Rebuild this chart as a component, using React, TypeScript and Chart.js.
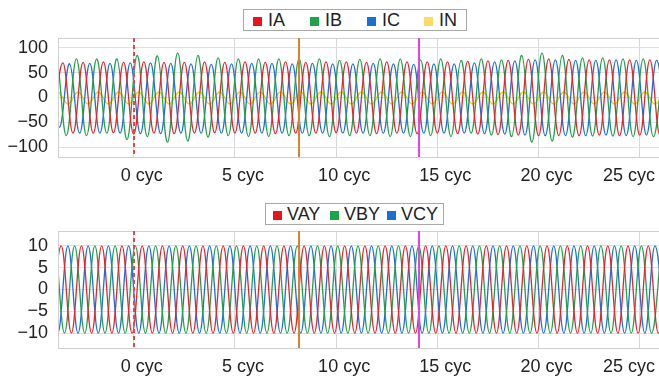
import React, { useEffect, useRef } from 'react';
import { Chart, registerables } from 'chart.js';

Chart.register(...registerables);
Chart.defaults.font.family = '"Liberation Sans", Arial, sans-serif';

// ---------------- data ----------------
const X_MIN = -3.74;
const X_MAX = 25.95;
const X_TICKS = [0, 5, 10, 15, 20, 25];
const CURRENT_Y_TICKS = [-100, -50, 0, 50, 100];
const CURRENT_Y_MIN = -120;
const CURRENT_Y_MAX = 120;
const VOLTAGE_Y_TICKS = [-10, -5, 0, 5, 10];
const VOLTAGE_Y_MIN = -13.4;
const VOLTAGE_Y_MAX = 13.4;

// event markers (cycles)
const MARKER_TIMES = [0, 8.15, 14.1];

// each waveform: time (cyc) of its first extremum, then the extreme value of every half cycle
const HALF_CYCLE = 0.5;

const IA_START = -4;
const IA = [
  -71, 70, -72, 71, -72, 72, -71, 71, -74, 72,
  -72, 71, -73, 71, -72, 72, -71, 71, -72, 72,
  -72, 71, -73, 72, -72, 71, -72, 72, -71, 72,
  -72, 71, -73, 72, -72, 72, -73, 72, -72, 72,
  -73, 73, -74, 74, -75, 75, -76, 77, -77, 78,
  -77, 77, -77, 76, -76, 76, -77, 76, -76, 76,
  -76, 75,
];

const IB_START = -4.33;
const IB = [
  -75, 75, -77, 78, -77, 78, -72, 78, -85, 85,
  -79, 84, -90, 90, -88, 85, -80, 80, -77, 78,
  -79, 78, -79, 78, -77, 78, -77, 78, -79, 75,
  -77, 77, -77, 78, -79, 78, -79, 76, -77, 78,
  -79, 75, -72, 78, -76, 76, -79, 85, -90, 90,
  -88, 85, -80, 80, -78, 80, -78, 78, -79, 78,
  -79, 78,
];

const IC_START = -4.17;
const IC = [
  66, -60, 68, -72, 69, -72, 69, -72, 70, -73,
  70, -73, 69, -72, 68, -72, 67, -72, 68, -72,
  69, -72, 69, -72, 68, -72, 69, -72, 68, -72,
  68, -72, 69, -72, 68, -72, 67, -72, 68, -72,
  68, -72, 70, -73, 72, -74, 74, -76, 76, -77,
  76, -77, 75, -77, 75, -76, 76, -77, 75, -76,
  75, -76,
];

const IN_START = -4.25;
const IN = [
  -13, 11, -13, 11, -13, 11, -13, 11, -13, 11,
  -13, 11, -13, 11, -13, 11, -13, 11, -13, 11,
  -13, 11, -13, 11, -13, 11, -13, 11, -13, 11,
  -13, 11, -13, 11, -13, 11, -13, 11, -13, 11,
  -13, 11, -13, 11, -13, 11, -13, 11, -13, 11,
  -13, 11, -13, 11, -13, 11, -13, 11, -13, 11,
  -13, 11,
];

const VAY_START = -4.08;
const VAY = [
  -10, 10, -10, 10, -10, 10, -10, 10, -10, 10,
  -10, 10, -10, 10, -10, 10, -10, 10, -10, 10,
  -10, 10, -10, 10, -10, 10, -10, 10, -10, 10,
  -10, 10, -10, 10, -10, 10, -10, 10, -10, 10,
  -10, 10, -10, 10, -10, 10, -10, 10, -10, 10,
  -10, 10, -10, 10, -10, 10, -10, 10, -10, 10,
  -10, 10,
];

const VBY_START = -4.42;
const VBY = [
  -10, 10, -10, 10, -10, 10, -10, 10, -10, 10,
  -10, 10, -10, 10, -10, 10, -10, 10, -10, 10,
  -10, 10, -10, 10, -10, 10, -10, 10, -10, 10,
  -10, 10, -10, 10, -10, 10, -10, 10, -10, 10,
  -10, 10, -10, 10, -10, 10, -10, 10, -10, 10,
  -10, 10, -10, 10, -10, 10, -10, 10, -10, 10,
  -10, 10,
];

const VCY_START = -4.25;
const VCY = [
  10, -10, 10, -10, 10, -10, 10, -10, 10, -10,
  10, -10, 10, -10, 10, -10, 10, -10, 10, -10,
  10, -10, 10, -10, 10, -10, 10, -10, 10, -10,
  10, -10, 10, -10, 10, -10, 10, -10, 10, -10,
  10, -10, 10, -10, 10, -10, 10, -10, 10, -10,
  10, -10, 10, -10, 10, -10, 10, -10, 10, -10,
  10, -10,
];

// ---------------- styles ----------------
const COLORS = {
  red: '#e3262e',
  green: '#22a04c',
  blue: '#1f6fd6',
  yellow: '#f2d000',
};
const SWATCH = {
  red: '#e8141c',
  green: '#1aa54b',
  blue: '#1a6fd0',
  yellow: '#ffd966',
};
const MARKER_STYLES = [
  { color: '#e2494b', dash: [4, 3] },
  { color: '#d8832c', dash: [] as number[] },
  { color: '#e244e6', dash: [] as number[] },
];

function buildSeries(start: number, values: number[]) {
  return values.map((y, k) => ({ x: start + k * HALF_CYCLE, y }));
}

function fmt(v: number) {
  return String(v).replace('-', '\u2212');
}

const framePlugin = {
  id: 'frame',
  afterDatasetsDraw(chart: any) {
    const { ctx, chartArea: a } = chart;
    ctx.save();
    ctx.strokeStyle = '#cfcfcf';
    ctx.lineWidth = 1;
    ctx.strokeRect(Math.round(a.left) + 0.5, Math.round(a.top) + 0.5, a.right - a.left, a.bottom - a.top);
    ctx.restore();
  },
};

const markerPlugin = {
  id: 'markers',
  afterDatasetsDraw(chart: any) {
    const { ctx, chartArea: a } = chart;
    const xs = chart.scales.x;
    ctx.save();
    MARKER_TIMES.forEach((t, i) => {
      const st = MARKER_STYLES[i];
      const px = Math.round(xs.getPixelForValue(t));
      ctx.strokeStyle = st.color;
      ctx.lineWidth = 2;
      ctx.setLineDash(st.dash);
      ctx.beginPath();
      ctx.moveTo(px, a.top);
      ctx.lineTo(px, a.bottom);
      ctx.stroke();
    });
    ctx.restore();
  },
};

const lastLabelPlugin = {
  id: 'lastLabel',
  beforeDraw(chart: any) {
    try {
      const sc = chart.scales.x;
      const items = sc.getLabelItems();
      const last = items[items.length - 1];
      if (last && last.options && last.options.translation) {
        last.options.textAlign = 'right';
        last.options.translation = [chart.width - 4, last.options.translation[1]];
      }
    } catch (e) {
      /* ignore */
    }
  },
};

function makeConfig(
  datasets: any[],
  yMin: number,
  yMax: number,
  yTicks: number[],
  topPad: number,
  xAxisHeight: number,
  xLabelPad: number
): any {
  return {
    type: 'line',
    data: { datasets },
    options: {
      animation: false,
      responsive: false,
      events: [],
      layout: { padding: { top: topPad, left: 0, right: 0, bottom: 0 } },
      plugins: { legend: { display: false }, tooltip: { enabled: false } },
      elements: { point: { radius: 0 }, line: { tension: 0.4, borderWidth: 1.3 } },
      scales: {
        x: {
          type: 'linear',
          min: X_MIN,
          max: X_MAX,
          afterBuildTicks: (s: any) => {
            s.ticks = X_TICKS.map((v) => ({ value: v }));
          },
          afterFit: (s: any) => {
            s.height = xAxisHeight;
            s.paddingLeft = 0;
            s.paddingRight = 0;
          },
          grid: { color: '#d8d8d8', drawTicks: false },
          border: { display: false },
          ticks: {
            padding: xLabelPad,
            labelOffset: 8,
            maxRotation: 0,
            autoSkip: false,
            color: '#222',
            font: { size: 18 },
            callback: (v: number) => `${v} cyc`,
          },
        },
        y: {
          min: yMin,
          max: yMax,
          afterBuildTicks: (s: any) => {
            s.ticks = yTicks.map((v) => ({ value: v }));
          },
          afterFit: (s: any) => {
            s.width = 58;
            s.paddingTop = 0;
            s.paddingBottom = 0;
          },
          grid: { color: '#e0e0e0', drawTicks: false },
          border: { display: false },
          ticks: {
            padding: 10,
            color: '#222',
            font: { size: 18 },
            callback: (v: number) => fmt(v),
          },
        },
      },
    },
    plugins: [framePlugin, markerPlugin, lastLabelPlugin],
  };
}

function ChartCanvas({ config, height }: { config: () => any; height: number }) {
  const ref = useRef<HTMLCanvasElement>(null);
  useEffect(() => {
    if (!ref.current) return;
    const chart = new Chart(ref.current, config());
    return () => chart.destroy();
  }, []);
  return <canvas ref={ref} width={659} height={height} style={{ display: 'block', width: 659, height }} />;
}

function Legend({
  items,
  left,
  top,
  width,
  padLeft,
  gap,
}: {
  items: { label: string; color: string }[];
  left: number;
  top: number;
  width: number;
  padLeft: number;
  gap: number;
}) {
  return (
    <div
      style={{
        position: 'absolute',
        left,
        top,
        width,
        height: 22,
        boxSizing: 'border-box',
        border: '1px solid #a8a8a8',
        background: '#fff',
        display: 'flex',
        alignItems: 'center',
        paddingLeft: padLeft,
        fontFamily: '"Liberation Sans", Arial, sans-serif',
        fontSize: 18,
        color: '#222',
        whiteSpace: 'nowrap',
      }}
    >
      {items.map((it, i) => (
        <div
          key={it.label}
          style={{
            display: 'flex',
            alignItems: 'center',
            width: i < items.length - 1 ? 57 : 'auto',
            flex: 'none',
          }}
        >
          <span
            style={{
              display: 'inline-block',
              width: 9,
              height: 9,
              background: it.color,
              marginRight: gap,
              marginTop: 2,
            }}
          />
          <span style={{ lineHeight: '20px' }}>{it.label}</span>
        </div>
      ))}
    </div>
  );
}

export default function App() {
  const currentConfig = () =>
    makeConfig(
      [
        { label: 'IA', data: buildSeries(IA_START, IA), borderColor: COLORS.red },
        { label: 'IB', data: buildSeries(IB_START, IB), borderColor: COLORS.green },
        { label: 'IC', data: buildSeries(IC_START, IC), borderColor: COLORS.blue },
        { label: 'IN', data: buildSeries(IN_START, IN), borderColor: COLORS.yellow, borderWidth: 1.5 },
      ],
      CURRENT_Y_MIN,
      CURRENT_Y_MAX,
      CURRENT_Y_TICKS,
      38,
      33,
      8
    );
  const voltageConfig = () =>
    makeConfig(
      [
        { label: 'VAY', data: buildSeries(VAY_START, VAY), borderColor: COLORS.red },
        { label: 'VBY', data: buildSeries(VBY_START, VBY), borderColor: COLORS.green },
        { label: 'VCY', data: buildSeries(VCY_START, VCY), borderColor: COLORS.blue },
      ],
      VOLTAGE_Y_MIN,
      VOLTAGE_Y_MAX,
      VOLTAGE_Y_TICKS,
      41,
      28,
      8
    );

  return (
    <div style={{ position: 'absolute', left: 0, top: 0, width: 659, height: 376, background: '#fff', overflow: 'hidden' }}>
      <div style={{ position: 'absolute', left: 0, top: 0 }}>
        <ChartCanvas config={currentConfig} height={190} />
      </div>
      <div style={{ position: 'absolute', left: 0, top: 190 }}>
        <ChartCanvas config={voltageConfig} height={186} />
      </div>
      <Legend
        items={[
          { label: 'IA', color: SWATCH.red },
          { label: 'IB', color: SWATCH.green },
          { label: 'IC', color: SWATCH.blue },
          { label: 'IN', color: SWATCH.yellow },
        ]}
        left={243}
        top={9}
        width={224}
        padLeft={9}
        gap={6}
      />
      <Legend
        items={[
          { label: 'VAY', color: SWATCH.red },
          { label: 'VBY', color: SWATCH.green },
          { label: 'VCY', color: SWATCH.blue },
        ]}
        left={265}
        top={203}
        width={179}
        padLeft={7}
        gap={5}
      />
    </div>
  );
}
